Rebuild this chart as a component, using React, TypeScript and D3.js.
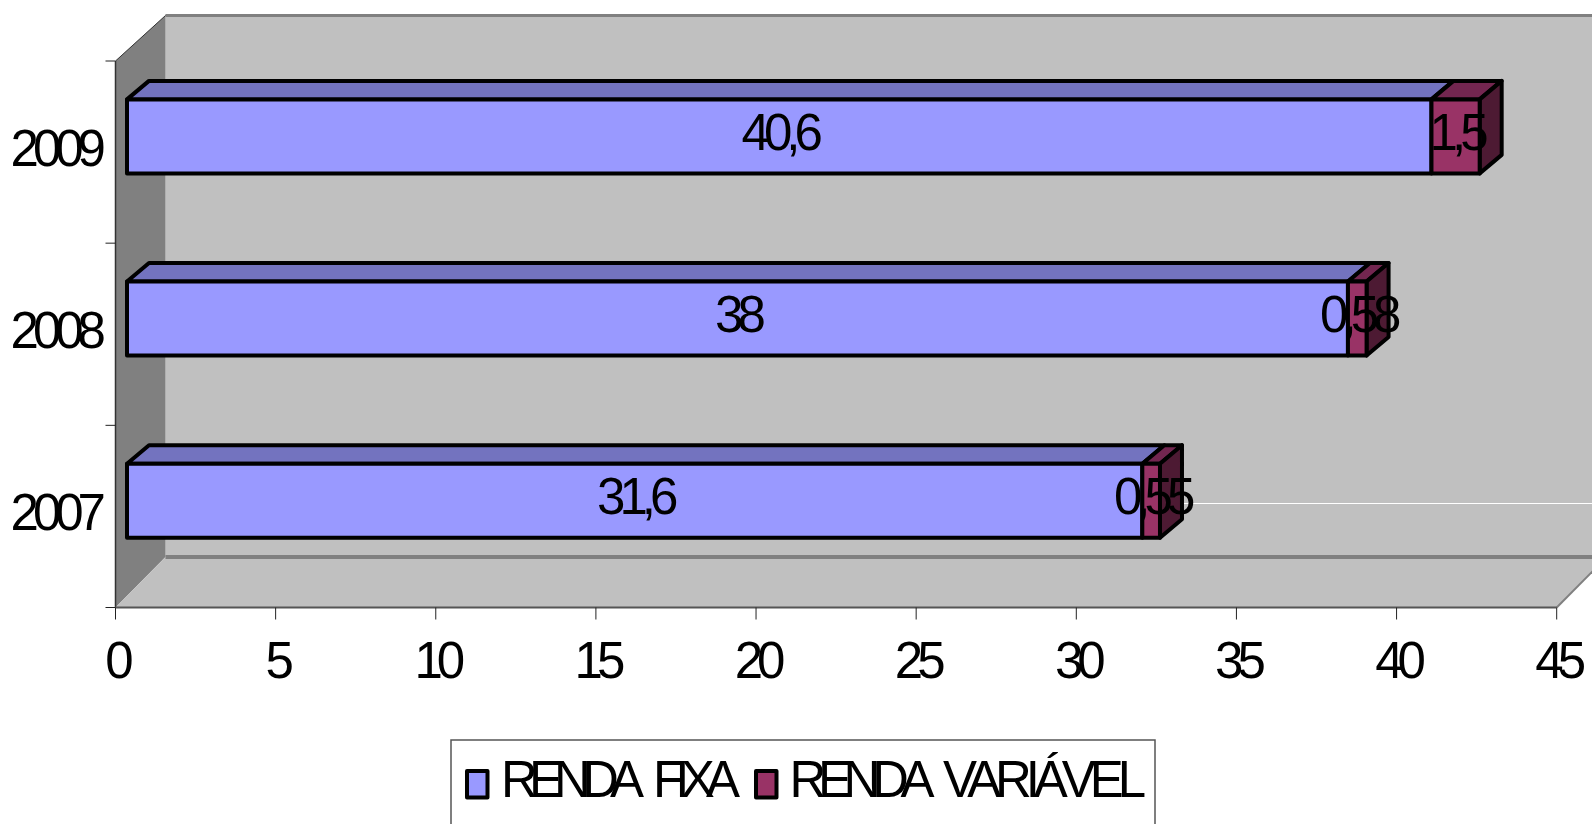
import React from "react";
import * as d3 from "d3";

const years = ["2009", "2008", "2007"];
const rendaFixa = [40.6, 38, 31.6];
const rendaVariavel = [1.5, 0.58, 0.55];
const fixaLabels = ["40,6", "38", "31,6"];
const variavelLabels = ["1,5", "0,58", "0,55"];
const xTicks = [0, 5, 10, 15, 20, 25, 30, 35, 40, 45];
const legendWords = [["RENDA", "FIXA"], ["RENDA", "VARIÁVEL"]];

const W = 1592, H = 824;
const FONT = "'Liberation Sans', Arial, sans-serif";
const FS = 51;
const LS = "-6px";

const x0 = 115.5, x1 = 1556.7, yTop = 61, yBot = 607.5;
const wallDx = 50, wallTopY = 15.5, floorY = 557;
const barDx = 22, barDy = 18.5;

const xAxis = d3.scaleLinear().domain([0, 45]).range([x0, x1]);
const xBar = d3.scaleLinear().domain([0, 45]).range([127, 127 + 45 * 32.13]);
const yBand = d3.scaleBand<string>().domain(years).range([yTop, yBot]);

const C = {
  fixa: "#9999FF", fixaTop: "#7373BF",
  vari: "#993366", variTop: "#732650", variSide: "#4D1A33",
  wall: "#C0C0C0", side: "#808080",
};

function pts(p: [number, number][]) { return p.map(d => d.join(",")).join(" "); }

function Box({ a, b, top, bottom, fill, topFill, sideFill }: any) {
  return (
    <g stroke="#000" strokeWidth={4} strokeLinejoin="round">
      <polygon points={pts([[a, top], [a + barDx, top - barDy], [b + barDx, top - barDy], [b, top]])} fill={topFill} />
      {sideFill && <polygon points={pts([[b, top], [b + barDx, top - barDy], [b + barDx, bottom - barDy], [b, bottom]])} fill={sideFill} />}
      <rect x={a} y={top} width={b - a} height={bottom - top} fill={fill} />
    </g>
  );
}

function Word({ x, len, children }: any) {
  return <text x={x} y={797} fontSize={FS} textLength={len} lengthAdjust="spacing" fill="#000">{children}</text>;
}

export default function App() {
  return (
    <svg width={W} height={H} style={{ position: "absolute", left: 0, top: 0, display: "block", background: "#fff" }} fontFamily={FONT}>
      {/* back wall */}
      <rect x={x0 + wallDx} y={wallTopY} width={W} height={floorY - wallTopY} fill={C.wall} />
      <line x1={x0 + wallDx} x2={W} y1={wallTopY} y2={wallTopY} stroke={C.side} strokeWidth={3} />
      {/* side wall */}
      <polygon points={pts([[x0, yTop], [x0 + wallDx, wallTopY], [x0 + wallDx, floorY], [x0, yBot]])} fill={C.side} />
      {/* floor */}
      <polygon points={pts([[x0, yBot], [x0 + wallDx, floorY], [x1 + wallDx, floorY], [x1, yBot]])} fill={C.wall} />
      <line x1={x0 + wallDx} x2={W} y1={floorY} y2={floorY} stroke={C.side} strokeWidth={4} />
      <line x1={x1} y1={yBot} x2={x1 + wallDx} y2={floorY} stroke={C.side} strokeWidth={2} />
      <line x1={1180} x2={W} y1={503.5} y2={503.5} stroke="#fff" strokeWidth={1} />

      {/* axes */}
      <line x1={x0} x2={x0} y1={yTop} y2={yBot} stroke="#333" strokeWidth={1.5} />
      <line x1={x0} y1={yTop} x2={x0 + wallDx} y2={wallTopY} stroke="#333" strokeWidth={1} />
      <line x1={x0} x2={x1} y1={yBot} y2={yBot} stroke="#555" strokeWidth={2} />
      {xTicks.map(t => (
        <g key={t}>
          <line x1={xAxis(t)} x2={xAxis(t)} y1={yBot} y2={yBot + 12} stroke="#222" strokeWidth={1} />
          <text x={xAxis(t) + 1} y={678} textAnchor="middle" fontSize={FS} letterSpacing={LS} fill="#000">{t}</text>
        </g>
      ))}
      {[yTop, ...years.map(y => yBand(y)! + yBand.bandwidth())].map((y, i) => (
        <line key={i} x1={x0 - 10} x2={x0} y1={y} y2={y} stroke="#222" strokeWidth={1} />
      ))}
      {years.map(y => (
        <text key={y} x={100} y={yBand(y)! + yBand.bandwidth() / 2 + 13.5} textAnchor="end" fontSize={FS} letterSpacing={LS} fill="#000">{y}</text>
      ))}

      {/* bars */}
      {[...years].reverse().map((y) => {
        const i = years.indexOf(y);
        const c = yBand(y)! + yBand.bandwidth() / 2 - 15.7;
        const top = c - 37, bottom = c + 37;
        const a = xBar(0), b = xBar(rendaFixa[i]), e = xBar(rendaFixa[i] + rendaVariavel[i]);
        return (
          <g key={y}>
            <Box a={a} b={b} top={top} bottom={bottom} fill={C.fixa} topFill={C.fixaTop} />
            <Box a={b} b={e} top={top} bottom={bottom} fill={C.vari} topFill={C.variTop} sideFill={C.variSide} />
          </g>
        );
      })}
      {years.map((y, i) => {
        const c = yBand(y)! + yBand.bandwidth() / 2 - 15.7;
        const a = xBar(0), b = xBar(rendaFixa[i]), e = xBar(rendaFixa[i] + rendaVariavel[i]);
        return (
          <g key={y} fontSize={FS} letterSpacing={LS} textAnchor="middle" fill="#000">
            <text x={(a + b) / 2} y={c + 13.5}>{fixaLabels[i]}</text>
            <text x={(b + e) / 2 + 0.5} y={c + 13.5}>{variavelLabels[i]}</text>
          </g>
        );
      })}

      {/* legend */}
      <rect x={451} y={740} width={704} height={120} fill="#fff" stroke="#555" strokeWidth={1.5} />
      <rect x={467} y={771} width={20.5} height={26.5} fill={C.fixa} stroke="#000" strokeWidth={4} strokeLinejoin="round" />
      <Word x={501} len={143}>{legendWords[0][0]}</Word>
      <Word x={653} len={87}>{legendWords[0][1]}</Word>
      <rect x={756} y={771} width={20.5} height={26.5} fill={C.vari} stroke="#000" strokeWidth={4} strokeLinejoin="round" />
      <Word x={789.5} len={145}>{legendWords[1][0]}</Word>
      <Word x={943} len={203}>{legendWords[1][1]}</Word>
    </svg>
  );
}
